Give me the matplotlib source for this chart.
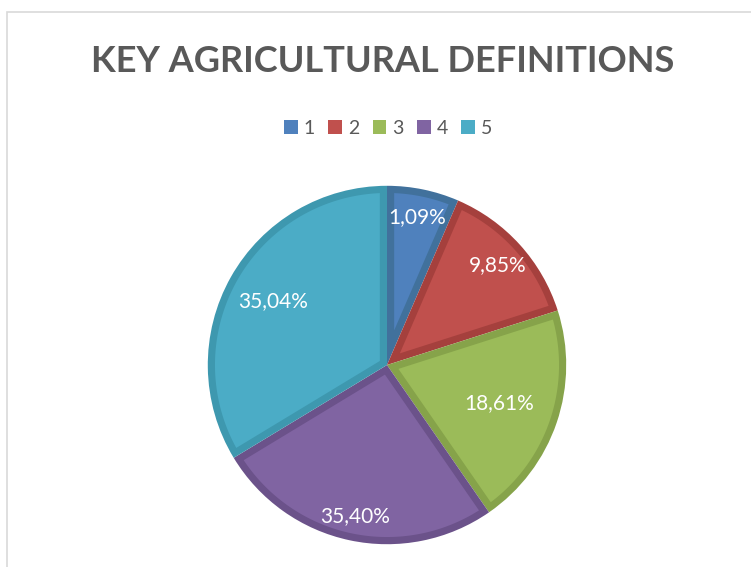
import matplotlib.pyplot as plt
import matplotlib.patches as mpatches
import numpy as np

# slice sizes as drawn (angles)
categories = ["1", "2", "3", "4", "5"]
slice_sizes = [6.5, 13.6, 20.3, 26.0, 33.7]
# the percent labels printed on the chart
pct_labels = ["1,09%", "9,85%", "18,61%", "35,40%", "35,04%"]

fills = ["#4F81BD", "#C0504D", "#9BBB59", "#8064A2", "#4BACC6"]
edges = ["#41719C", "#A5403D", "#86A34A", "#6B528A", "#3E98AF"]
label_dist = [0.84, 0.83, 0.66, 0.86, 0.73]

plt.rcParams['font.family'] = ['Lato', 'DejaVu Sans']

fig = plt.figure(figsize=(7.51, 5.67), dpi=100)

# light chart frame
frame = mpatches.Rectangle((7 / 751, -0.05), 1.0, 1 - 12 / 567 + 0.05,
                           transform=fig.transFigure, fill=False,
                           edgecolor="#D9D9D9", linewidth=1.2)
fig.patches.append(frame)

ax = fig.add_axes([206 / 751, 21 / 567, 362 / 751, 362 / 567])
# base pie in the darker border colour
wedges, _ = ax.pie(slice_sizes, colors=edges, startangle=90, counterclock=False,
                   radius=1.0, wedgeprops=dict(linewidth=0))


def inset_wedge(t1, t2, r, d):
    # wedge shrunk inward by d on every side
    t1, t2 = np.deg2rad(min(t1, t2)), np.deg2rad(max(t1, t2))
    h = (t2 - t1) / 2
    mid = t1 + h
    off = d / np.sin(h)
    cx, cy = off * np.cos(mid), off * np.sin(mid)
    a1 = t1 + np.arcsin(d / (r - d))
    a2 = t2 - np.arcsin(d / (r - d))
    a = np.linspace(a1, a2, 100)
    xs = np.concatenate([[cx], (r - d) * np.cos(a)])
    ys = np.concatenate([[cy], (r - d) * np.sin(a)])
    return np.column_stack([xs, ys])


inset = 0.04
for w, fc in zip(wedges, fills):
    poly = mpatches.Polygon(inset_wedge(w.theta1, w.theta2, w.r, inset),
                            closed=True, facecolor=fc, edgecolor="none")
    ax.add_patch(poly)

for w, txt, d in zip(wedges, pct_labels, label_dist):
    ang = np.deg2rad((w.theta1 + w.theta2) / 2)
    ax.text(d * np.cos(ang), d * np.sin(ang), txt, ha="center", va="center",
            color="white", fontsize=15)
ax.set_xlim(-1.01, 1.01)
ax.set_ylim(-1.01, 1.01)
ax.axis("off")

fig.text(383 / 751, 1 - 62 / 567, "KEY AGRICULTURAL DEFINITIONS", ha="center",
         va="center", fontsize=26, fontweight="bold", color="#595959")

handles = [mpatches.Patch(facecolor=c, edgecolor="none", label=l)
           for c, l in zip(fills, categories)]
fig.legend(handles=handles, loc="center", bbox_to_anchor=(388 / 751, 1 - 128 / 567),
           ncol=5, frameon=False, fontsize=14, handlelength=0.7, handleheight=0.7,
           handletextpad=0.3, columnspacing=0.7, labelcolor="#595959")

fig.savefig("out.png", dpi=100)
